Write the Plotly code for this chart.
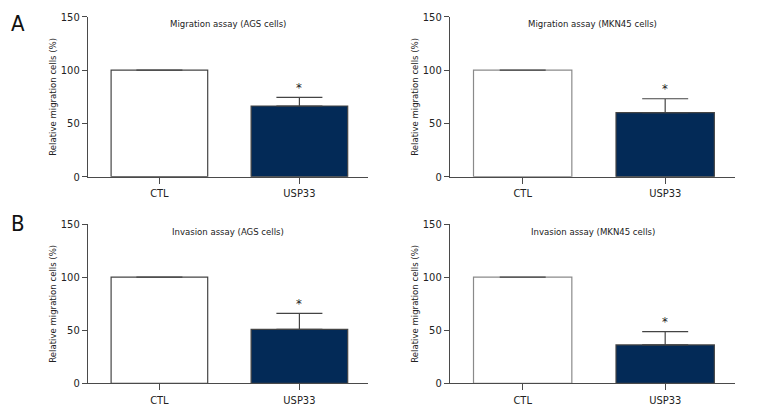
import plotly.graph_objects as go

categories = ["CTL", "USP33"]
titles = ["Migration assay (AGS cells)", "Migration assay (MKN45 cells)",
          "Invasion assay (AGS cells)", "Invasion assay (MKN45 cells)"]
ctl_values = [100, 100, 100, 100]
usp33_values = [66.3, 60.0, 50.8, 36.1]
usp33_err = [8.1, 13.1, 15.1, 12.5]
y_ticks = [0, 50, 100, 150]

W, H = 780, 420
FONT = "Liberation Sans Narrow, DejaVu Sans Condensed, sans-serif"
NAVY = "#032a57"
AX = "#4a4a4a"

# panel pixel boxes: (x0, x1, y_top(150), y_bottom(0))
boxes = [(88, 368, 16.7, 176.7), (450, 735, 16.7, 176.7),
         (88, 368, 224, 383.3), (450, 735, 224, 383.3)]
ctl_line = ["#444444", "#8a8a8a", "#444444", "#8a8a8a"]

fig = go.Figure()
for i in range(4):
    n = "" if i == 0 else str(i + 1)
    xa, ya = "x" + n, "y" + n
    fig.add_trace(go.Bar(
        x=categories, y=[ctl_values[i], usp33_values[i]],
        marker=dict(color=["white", NAVY], line=dict(color=[ctl_line[i], "#444444"], width=1.2)),
        error_y=dict(type="data", symmetric=False, array=[0, usp33_err[i]], arrayminus=[0, 0],
                     color="#444444", thickness=1.2, width=23, visible=True),
        width=0.69, xaxis=xa, yaxis=ya, showlegend=False, hoverinfo="skip"))
    x0, x1, yt, yb = boxes[i]
    dom_x = [x0 / W, x1 / W]
    dom_y = [1 - yb / H, 1 - yt / H]
    fig.layout["xaxis" + n] = dict(domain=dom_x, range=[-0.51, 1.49], anchor=ya,
                                   showline=True, linecolor=AX, linewidth=1.2,
                                   ticks="outside", ticklen=6, tickcolor=AX, tickwidth=1.2,
                                   showgrid=False, zeroline=False, automargin=False,
                                   tickfont=dict(family=FONT, size=11, color="#222"))
    fig.layout["yaxis" + n] = dict(domain=dom_y, range=[0, 150], anchor=xa,
                                   tickvals=y_ticks, showline=True, linecolor=AX, linewidth=1.2,
                                   ticks="outside", ticklen=5, tickcolor=AX, tickwidth=1.2,
                                   showgrid=False, zeroline=False, automargin=False,
                                   tickfont=dict(family=FONT, size=11, color="#222"))
    fig.add_annotation(x=(x0 + x1) / 2 / W, y=1 - (yt + 7) / H, xref="paper", yref="paper",
                       text=titles[i], showarrow=False, xanchor="center", yanchor="middle",
                       font=dict(family=FONT, size=9.5, color="#222"))
    fig.add_annotation(x=(x0 - 35) / W, y=1 - (yt + yb) / 2 / H, xref="paper", yref="paper",
                       text="Relative migration cells (%)", textangle=-90, showarrow=False,
                       xanchor="center", yanchor="middle",
                       font=dict(family=FONT, size=9.5, color="#222"))
    fig.add_annotation(x="USP33", y=usp33_values[i] + usp33_err[i], xref=xa, yref=ya,
                       text="*", showarrow=False, yshift=10, yanchor="middle",
                       font=dict(family=FONT, size=13, color="#222"))

fig.add_annotation(x=18 / W, y=1 - 23 / H, xref="paper", yref="paper", text="A",
                   xanchor="center", yanchor="middle",
                   showarrow=False, font=dict(family=FONT, size=22, color="#111"))
fig.add_annotation(x=18 / W, y=1 - 223 / H, xref="paper", yref="paper", text="B",
                   xanchor="center", yanchor="middle",
                   showarrow=False, font=dict(family=FONT, size=22, color="#111"))

fig.update_layout(width=W, height=H, margin=dict(l=0, r=0, t=0, b=0, pad=0),
                  template="none",
                  paper_bgcolor="white", plot_bgcolor="white", bargap=0.3)
fig.write_html("out.html", config={"displayModeBar": False},
               post_script="document.body.style.margin='0';document.body.style.overflow='hidden';")
